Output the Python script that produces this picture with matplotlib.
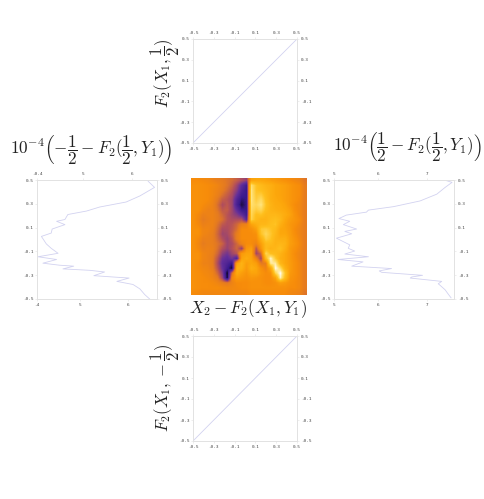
import matplotlib
matplotlib.use("Agg")
import matplotlib.pyplot as plt
from matplotlib.colors import LinearSegmentedColormap

plt.rcParams['mathtext.fontset'] = 'cm'

W, H = 484, 499

diag_x = [-0.5, 0.5]
diag_y = [-0.5, 0.5]
symm_ticks = [-0.5, -0.3, -0.1, 0.1, 0.3, 0.5]
symm_labels = ['-0.5', '-0.3', '-0.1', '0.1', '0.3', '0.5']

left_vals = [6.36, 6.26, 6.16, 6.02, 5.69, 5.94, 5.61, 5.22, 5.44, 5.14, 4.59, 4.81, 4.52, 4.18, 4.46, 4.08,
             4.49, 4.35, 4.25, 4.15, 4.35, 4.37, 4.63, 4.46, 4.63, 4.69, 5.07, 5.34, 5.88, 6.16, 6.46, 6.33]
left_y = [-0.50, -0.463, -0.415, -0.378, -0.352, -0.324, -0.315, -0.304, -0.273, -0.259, -0.247, -0.224, -0.216,
          -0.199, -0.168, -0.145, -0.116, -0.074, -0.037, 0.026, 0.054, 0.088, 0.125, 0.153, 0.168, 0.21, 0.239,
          0.273, 0.315, 0.366, 0.438, 0.489]

right_vals = [7.48, 7.43, 7.36, 7.26, 7.22, 7.29, 6.65, 6.68, 6.90, 6.07, 6.02, 6.27, 5.46, 5.69, 5.18, 5.80, 5.32,
              5.52, 5.39, 5.42, 5.15, 5.46, 5.32, 5.56, 5.29, 5.42, 5.20, 5.35, 5.76, 5.80, 6.31, 6.85, 7.19, 7.36,
              7.50, 7.39]
right_y = [-0.49, -0.463, -0.423, -0.386, -0.372, -0.352, -0.324, -0.315, -0.301, -0.276, -0.264, -0.244, -0.224,
           -0.188, -0.168, -0.145, -0.122, -0.097, -0.074, -0.045, 0.011, 0.048, 0.068, 0.088, 0.125, 0.153, 0.176,
           0.205, 0.23, 0.247, 0.276, 0.324, 0.381, 0.438, 0.48, 0.494]

heat = [
 [50,50,49,48,46,44,43,41,39,36,32,28,60,62,62,60,58,56,54,52,50,48,46,41],
 [52,52,51,50,49,47,44,41,37,30,20,12,88,76,72,68,66,62,60,58,55,52,50,43],
 [52,52,51,50,48,46,43,39,34,27,16,10,90,76,74,70,66,62,60,58,55,52,50,43],
 [52,52,51,50,48,45,40,36,32,22,12,10,90,78,80,72,66,62,60,58,55,52,50,43],
 [52,52,51,50,47,42,36,34,30,16, 8,10,90,80,86,74,66,63,61,58,55,52,49,43],
 [52,52,50,48,46,40,32,35,30,14, 5,10,88,84,90,76,68,64,63,60,55,50,48,43],
 [52,52,48,46,46,41,35,36,30,20,10,10,86,80,84,74,68,66,64,62,58,51,48,43],
 [52,49,45,46,46,43,38,34,30,26,20,12,84,74,76,70,70,70,68,64,60,53,48,43],
 [52,48,43,45,46,43,40,34,32,32,32,18,82,72,68,68,72,74,70,62,57,54,50,43],
 [52,49,45,46,46,41,35,33,34,38,44,46,60,66,70,70,74,76,66,60,55,52,48,43],
 [52,52,47,47,45,39,32,32,35,40,50,50,52,58,78,80,76,72,62,60,56,50,47,43],
 [52,52,47,46,44,38,30,31,36,44,50,50,50,52,76,84,78,70,62,62,57,51,47,43],
 [52,49,45,45,44,39,33,29,34,44,50,50,50,50,66,80,76,68,66,66,58,53,48,43],
 [52,48,43,45,44,41,37,30,32,38,46,50,50,46,58,72,72,68,70,68,58,54,49,43],
 [52,49,45,46,45,40,33,29,33,38,28,54,58,34,54,72,68,70,74,66,56,52,48,43],
 [52,52,47,46,44,38,28,24,30,34,56,60,60,30,38,84,74,72,68,62,56,50,47,43],
 [52,52,47,46,43,34,23,20,24,16,60,64,60,46,30,72,96,78,66,62,56,51,47,43],
 [52,50,46,46,43,32,20,16,10,58,68,58,62,58,42,44,92,92,70,62,57,52,48,43],
 [52,50,48,47,44,34,22,12, 3,66,66,56,66,62,52,46,62,98,86,66,57,52,48,43],
 [52,51,49,48,46,38,26, 2,40,64,58,54,60,60,54,50,52,84,99,76,56,52,48,43],
 [52,51,50,49,47,43,30, 3,48,56,54,52,55,54,52,50,50,60,94,72,54,51,48,43],
 [52,51,50,50,49,47,44,42,46,50,50,50,52,52,52,50,50,52,58,56,52,50,48,43],
 [52,51,50,50,50,50,49,48,48,49,50,50,52,52,52,52,52,52,52,52,50,50,48,43],
 [50,49,48,48,48,48,48,48,48,48,48,48,50,50,50,50,50,50,50,50,48,47,46,41],
]

sunset = LinearSegmentedColormap.from_list(
    'sunset', [(0.0, '#000000'), (0.10, '#3a1a8e'), (0.22, '#66309a'), (0.33, '#b4505a'),
               (0.42, '#e47a22'), (0.5, '#f78c0a'), (0.62, '#fda80c'), (0.75, '#ffc01e'),
               (0.88, '#ffe070'), (1.0, '#ffffff')])

frame = '#e2e2e2'
line = '#d2d2f0'
txt = '#444444'
fs = 3.2
mono = 'DejaVu Sans Mono'
tick_kw = dict(length=1.2, width=0.4, color=frame, labelsize=fs, labelcolor=txt, pad=1.5,
               labelfontfamily=mono)


def box(x0, y0, x1, y1):
    return [x0 / W, 1 - y1 / H, (x1 - x0) / W, (y1 - y0) / H]


def style(ax):
    for s in ax.spines.values():
        s.set_color(frame)
        s.set_linewidth(0.7)
    ax.tick_params(**tick_kw)
    ax.tick_params(left=True, right=True, labelleft=True, labelright=True)


def diag_panel(rect):
    ax = fig.add_axes(rect)
    ax.plot(diag_x, diag_y, color=line, lw=0.6)
    ax.set_xlim(-0.5, 0.5)
    ax.set_ylim(-0.5, 0.5)
    ax.set_xticks(symm_ticks, symm_labels)
    ax.set_yticks(symm_ticks, symm_labels)
    style(ax)
    ax.tick_params(top=True, bottom=True, labeltop=True, labelbottom=True)
    return ax


def curve_panel(rect, vals, ys, lim_top, lim_bot, t_top, l_top, t_bot, l_bot):
    ax = fig.add_axes(rect)
    ax.plot(vals, ys, color=line, lw=0.6)
    ax.set_xlim(*lim_top)
    ax.set_ylim(-0.5, 0.5)
    ax.set_yticks(symm_ticks, symm_labels)
    style(ax)
    sec = ax.twiny()
    sec.set_xlim(*lim_bot)
    sec.set_xticks(t_bot, l_bot)
    sec.tick_params(**tick_kw)
    sec.tick_params(top=False, labeltop=False, bottom=True, labelbottom=True)
    for s in sec.spines.values():
        s.set_visible(False)
    ax.set_xticks(t_top, l_top)
    ax.tick_params(axis='x', top=True, labeltop=True, bottom=False, labelbottom=False)
    return ax


fig = plt.figure(figsize=(W / 100, H / 100), dpi=100)

diag_panel(box(193, 39, 297, 143))
diag_panel(box(193, 336, 297, 441))

curve_panel(box(37, 180, 157, 299), left_vals, left_y, (4.06, 6.51), (4.10, 6.60),
            [4.06, 5, 6], ['-0.4', '5', '6'], [4.10, 5, 6], ['-4', '5', '6'])
curve_panel(box(334, 180, 454, 299), right_vals, right_y, (5.10, 7.54), (5.10, 7.54),
            [5.10, 6, 7], ['5', '6', '7'], [5.10, 6, 7], ['5', '6', '7'])

ax = fig.add_axes(box(191, 178, 307, 295))
ax.imshow(heat, cmap=sunset, vmin=0, vmax=100, aspect='auto', interpolation='bilinear')
ax.set_xticks([])
ax.set_yticks([])
for s in ax.spines.values():
    s.set_visible(False)


def label(x, y, s, size, rot=0):
    fig.text(x / W, 1 - y / H, s, fontsize=size, rotation=rot, ha='center', va='center', color='#222222')


label(248, 309, r'$X_2-F_2(X_1,Y_1)$', 12.3)
label(91, 150, r'$10^{-4}\left(-\dfrac{1}{2}-F_2(\dfrac{1}{2},Y_1)\right)$', 12.3)
label(407, 147, r'$10^{-4}\left(\dfrac{1}{2}-F_2(\dfrac{1}{2},Y_1)\right)$', 12.3)
label(165, 73, r'$F_2(X_1,\dfrac{1}{2})$', 12, 90)
label(165, 388, r'$F_2(X_1,-\dfrac{1}{2})$', 12, 90)

fig.savefig('out.png', dpi=100)
